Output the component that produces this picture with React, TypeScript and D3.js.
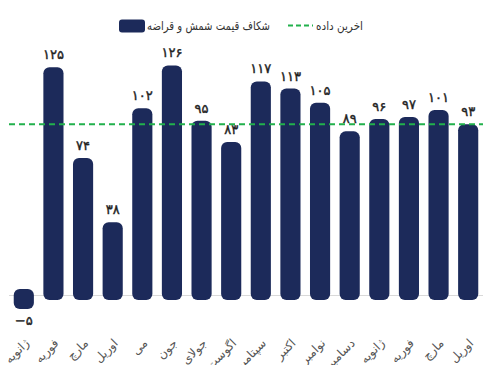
import React from 'react';
import * as d3 from 'd3';

const months = ['ژانویه', 'فوریه', 'مارچ', 'اوریل', 'می', 'جون', 'جولای', 'اگوست', 'سپتامبر', 'اکتبر', 'نوامبر', 'دسامبر', 'ژانویه', 'فوریه', 'مارچ', 'اوریل'];
const gapValues = [-5, 125, 74, 38, 102, 126, 95, 83, 117, 113, 105, 89, 96, 97, 101, 93];
const legendLabels = ['شکاف قیمت شمش و قراضه', 'اخرین داده'];

const W = 483, H = 365;
const font = "'DejaVu Sans', sans-serif";
const navy = '#1c2a5a';
const green = '#22b14c';

const faDigits = (n: number) =>
  String(n).replace(/\d/g, d => '۰۱۲۳۴۵۶۷۸۹'[+d]).replace('-', '−');

const App: React.FC = () => {
  const idx = months.map((_, i) => String(i));
  const x = d3.scaleBand().domain(idx).range([9, 483]).padding(0);
  const y = d3.scaleLinear().domain([0, 130]).range([290, 58.3]);
  const bw = x.bandwidth() * 0.68;
  const last = gapValues[gapValues.length - 1];
  const ext = 10;

  return (
    <svg width={W} height={H} style={{ display: 'block', position: 'absolute', left: 0, top: 0 }}>
      <rect width={W} height={H} fill="#fff" />
      {/* legend */}
      <rect x={119} y={19.5} width={26} height={13} rx={3} fill={navy} />
      <text x={147} y={30} fontFamily={font} fontSize={12} fill="#333"
        textLength={123} lengthAdjust="spacingAndGlyphs">{legendLabels[0]}</text>
      <line x1={288} x2={313} y1={25.5} y2={25.5} stroke={green} strokeWidth={2} strokeDasharray="5,3" />
      <text x={316} y={30} fontFamily={font} fontSize={12} fill="#333"
        textLength={47} lengthAdjust="spacingAndGlyphs">{legendLabels[1]}</text>

      {/* baseline */}
      <line x1={9} x2={483} y1={y(0) + 5.5} y2={y(0) + 5.5} stroke="#d9d9d9" strokeWidth={1} />

      {gapValues.map((v, i) => {
        const cx = (x(String(i)) ?? 0) + x.bandwidth() / 2;
        const top = v >= 0 ? y(v) : y(0) - 1;
        const bottom = v >= 0 ? y(0) + ext : y(v) + ext;
        return (
          <g key={i}>
            <rect x={cx - bw / 2} y={top} width={bw} height={bottom - top} rx={6} fill={navy} />
            <text
              x={cx}
              y={v >= 0 ? top - 8 : bottom + 16}
              textAnchor="middle"
              fontFamily={font}
              fontSize={13}
              fill="#222"
              stroke="#222"
              strokeWidth={0.4}
            >{faDigits(v)}</text>
            <text
              transform={`translate(${cx + 6},${344}) rotate(-45)`}
              textAnchor="end"
              fontFamily={font}
              fontSize={12}
              fill="#555"
            >{months[i]}</text>
          </g>
        );
      })}

      {/* last value line */}
      <line x1={9} x2={483} y1={y(last)} y2={y(last)} stroke={green} strokeWidth={2} strokeDasharray="6,4" />
    </svg>
  );
};

export default App;
